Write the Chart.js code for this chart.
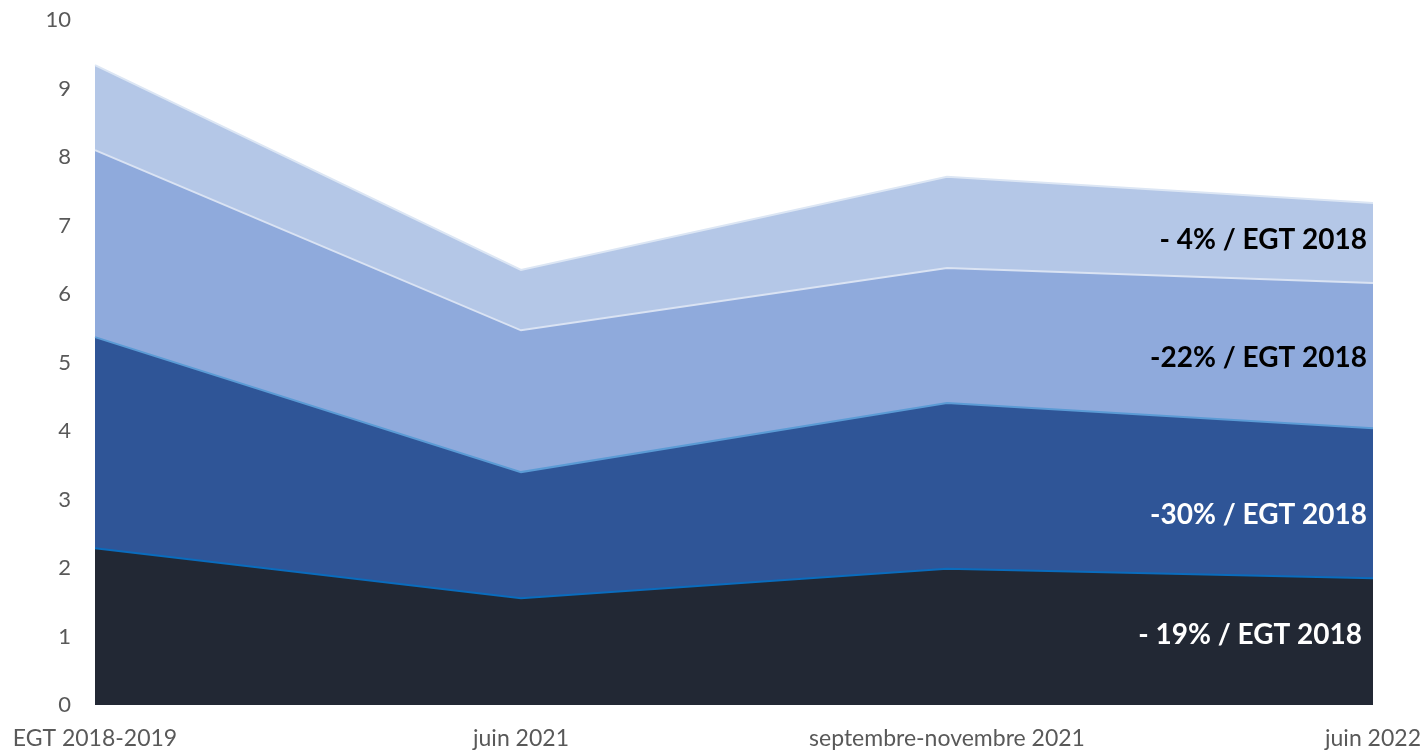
<!DOCTYPE html>
<html>
<head>
<meta charset="utf-8">
<script src="https://cdn.jsdelivr.net/npm/chart.js@4.4.1/dist/chart.umd.min.js"></script>
<style>
  html, body { margin: 0; padding: 0; background: #fff; }
  #wrap { width: 1427px; height: 754px; }
</style>
</head>
<body>
<div id="wrap"><canvas id="areaChart" width="1427" height="754"></canvas></div>
<script>
const periods = ["EGT 2018-2019", "juin 2021", "septembre-novembre 2021", "juin 2022"];
const serie1 = [2.29, 1.56, 1.99, 1.85];
const serie2 = [3.08, 1.84, 2.42, 2.19];
const serie3 = [2.73, 2.07, 1.97, 2.12];
const serie4 = [1.24, 0.88, 1.33, 1.17];
const bandLabels = ["- 19% / EGT 2018", "-30% / EGT 2018", "-22% / EGT 2018", "- 4% / EGT 2018"];
const bandLabelY = [1.02, 2.77, 5.07, 6.79];

const FONT = "Lato, 'Open Sans', sans-serif";

// libellés sur les bandes, à droite
const bandText = {
  id: "bandText",
  afterDatasetsDraw(chart) {
    const { ctx, scales: { x, y } } = chart;
    const colors = ["#ffffff", "#ffffff", "#000000", "#000000"];
    const px = x.getPixelForValue(periods.length - 1);
    ctx.save();
    ctx.font = "bold 28px " + FONT;
    ctx.textAlign = "right";
    ctx.textBaseline = "middle";
    bandLabels.forEach((txt, i) => {
      ctx.fillStyle = colors[i];
      ctx.fillText(txt, px - (i === 0 ? 11 : 6), y.getPixelForValue(bandLabelY[i]));
    });
    ctx.restore();
  }
};

new Chart(document.getElementById("areaChart"), {
  type: "line",
  data: {
    labels: periods,
    datasets: [
      { data: serie1, backgroundColor: "#222834", borderColor: "#0a6cbd", fill: "origin" },
      { data: serie2, backgroundColor: "#2f5597", borderColor: "#5b9bd5", fill: "-1" },
      { data: serie3, backgroundColor: "#8faadc", borderColor: "#dae3f3", fill: "-1" },
      { data: serie4, backgroundColor: "#b4c7e7", borderColor: "#dce6f4", fill: "-1" }
    ]
  },
  options: {
    responsive: false,
    animation: false,
    layout: { padding: { top: 20, right: 54, left: 0, bottom: 0 } },
    elements: {
      line: { tension: 0, borderWidth: 2 },
      point: { radius: 0, hoverRadius: 0 }
    },
    plugins: { legend: { display: false }, tooltip: { enabled: false } },
    scales: {
      x: {
        offset: false,
        grid: { display: false },
        border: { display: false },
        ticks: {
          color: "#595959",
          font: { family: FONT, size: 23 },
          maxRotation: 0,
          autoSkip: false,
          padding: 12
        },
        afterFit: s => { s.height = 49; s.paddingLeft = 0; s.paddingRight = 0; }
      },
      y: {
        stacked: true,
        min: 0,
        max: 10,
        grid: { display: false },
        border: { display: false },
        ticks: {
          stepSize: 1,
          color: "#595959",
          font: { family: FONT, size: 22 },
          padding: 16
        },
        afterFit: s => { s.width = 95; s.paddingTop = 0; s.paddingBottom = 0; }
      }
    }
  },
  plugins: [bandText]
});
</script>
</body>
</html>
